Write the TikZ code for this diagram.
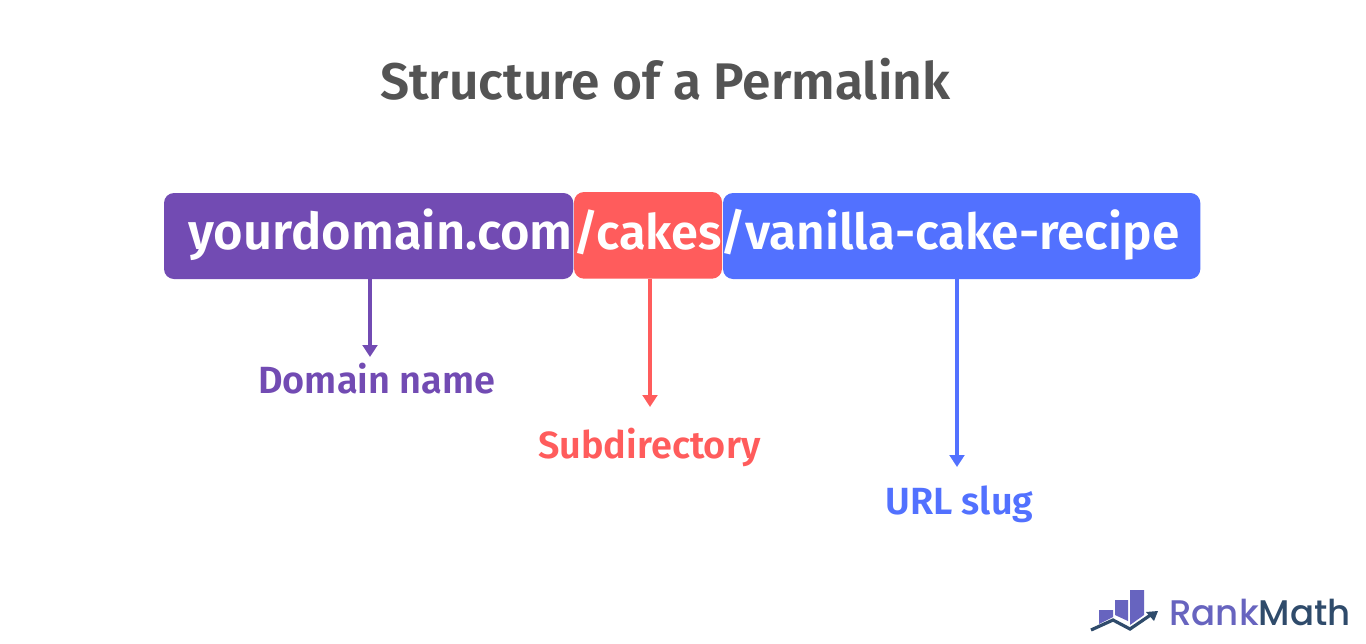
\documentclass[tikz,border=0pt]{standalone}
\usepackage{fontspec}
\setmainfont{Fira Sans}[BoldFont={Fira Sans SemiBold}]
\newfontfamily\logofont{Poppins Medium}
\definecolor{purp}{HTML}{724BB3}
\definecolor{redc}{HTML}{FF5C5C}
\definecolor{bluec}{HTML}{5271FF}
\definecolor{titlec}{HTML}{545454}
\definecolor{logoa}{HTML}{6764BF}
\definecolor{logob}{HTML}{2F4B6B}
\usetikzlibrary{arrows.meta}
\tikzset{
  x=0.75pt,y=-0.75pt,
  segbox/.style={fill=#1,rounded corners=7.5pt,inner sep=0,outer sep=0,anchor=north west},
  segtext/.style={text=white,font=\fontsize{#1}{40}\selectfont\bfseries,anchor=base west,inner sep=0},
  caplabel/.style={text=#1,font=\fontsize{28.4}{30}\selectfont\bfseries,anchor=base west,inner sep=0},
  pointer/.style={draw=#1,line width=2.3pt,-{Triangle[length=9pt,width=11pt]}},
  barc/.style={fill=logoa,draw=none},
}
\begin{document}
\begin{tikzpicture}
\useasboundingbox (0,0) rectangle (1366,643);
\fill[white] (0,0) rectangle (1366,643);
\node[anchor=base west,inner sep=0,text=titlec,font=\fontsize{38.6}{42}\selectfont\bfseries] (title) at (380,99) {Structure of a Permalink};
\node[segbox=purp,minimum width=307pt,minimum height=64.5pt] (dom) at (164,193) {};
\node[segbox=redc,minimum width=111pt,minimum height=65pt] (sub) at (574,192) {};
\node[segbox=bluec,minimum width=358pt,minimum height=64.5pt] (slug) at (723,193) {};
\node[segtext=38] (t1) at (188,249) {yourdomain.com};
\node[segtext=36.6] (t2) at (573,249) {/cakes};
\node[segtext=37.2] (t3) at (720,249) {/vanilla-cake-recipe};
\node[caplabel=purp] (l1) at (258,393) {Domain name};
\node[caplabel=redc] (l2) at (538,458) {Subdirectory};
\node[caplabel=bluec] (l3) at (885,514) {URL slug};
\coordinate (e1) at (370,357);
\coordinate (e2) at (650,407);
\coordinate (e3) at (957,467);
\draw[pointer=purp] (dom.south west -| e1) -- (e1);
\draw[pointer=redc] (sub.south west -| e2) -- (e2);
\draw[pointer=bluec] (slug.south west -| e3) -- (e3);
\fill[barc] (1099,610) -- (1113,610) -- (1113,617) -- (1099,624) -- cycle;
\fill[barc] (1115,600) -- (1128,600) -- (1128,621) -- (1115,615) -- cycle;
\fill[barc] (1130,590) -- (1144,590) -- (1144,615) -- (1130,625) -- cycle;
\draw[logob,line width=2.4pt] (1091,630) -- (1113,620) -- (1130,629) -- (1152,614);
\fill[logob] (1158,611) -- (1146,612) -- (1154,621) -- cycle;
\node[anchor=base west,inner sep=0,font=\fontsize{26.7}{30}\logofont] (logo) at (1169,625) {\textcolor{logoa}{Rank}\textcolor{logob}{Math}};
\end{tikzpicture}
\end{document}
